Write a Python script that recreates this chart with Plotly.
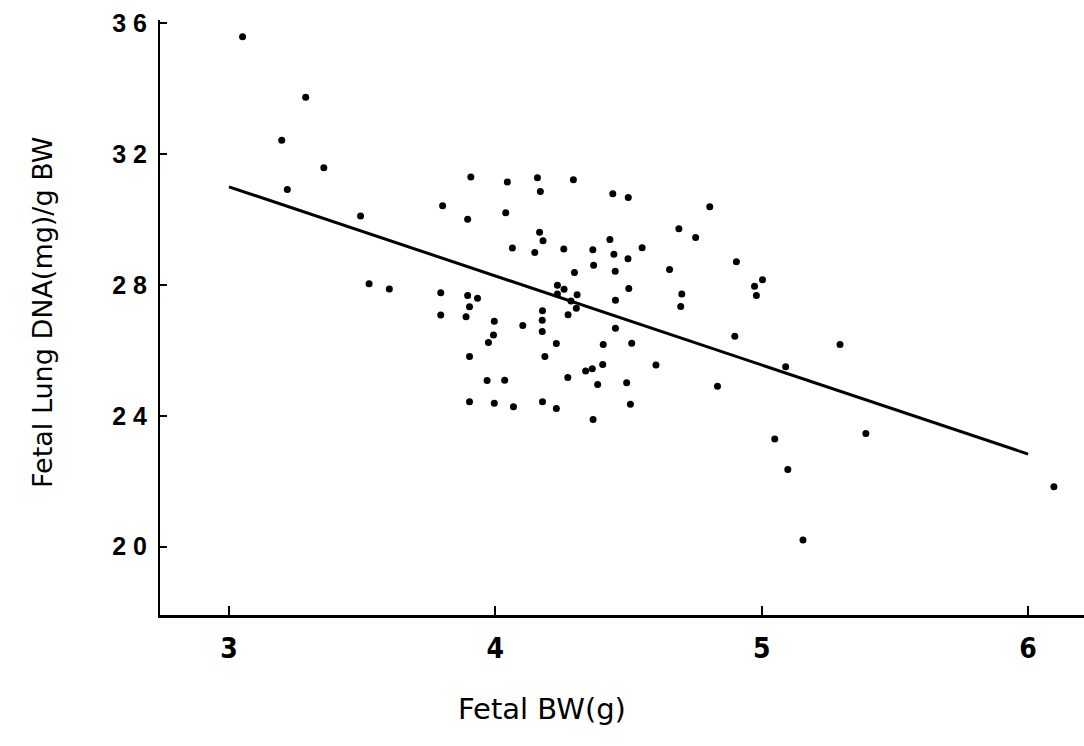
import plotly.graph_objects as go

# Fetal body weight (g)
bw = [3.051, 3.288, 3.198, 3.356, 3.219, 3.494, 3.908, 3.802, 3.896, 3.526,
      3.602, 3.795, 3.896, 3.933, 3.903, 3.795, 3.890,
      4.045, 4.158, 4.293, 4.169, 4.441, 4.499, 4.039, 4.166, 4.179,
      4.430, 4.689, 4.064, 4.148, 4.257, 4.366, 4.445, 4.551, 4.498,
      4.369, 4.654, 4.297, 4.450, 4.233, 4.258, 4.501, 4.233, 4.307,
      4.284, 4.304, 4.451, 4.177, 4.273, 4.176, 3.996, 4.103, 4.176,
      4.451, 3.993, 3.974, 4.229, 4.405, 4.512, 3.903, 4.186, 4.603,
      4.403, 4.364, 4.339, 4.272, 3.969, 4.035, 4.384, 4.493, 3.903,
      3.996, 4.068, 4.177, 4.229, 4.507, 4.367,
      4.805, 4.752, 4.905, 4.973, 5.003, 4.980, 4.700, 4.696, 4.899,
      5.294, 5.090, 4.834, 5.049, 5.391, 5.098, 6.097, 5.155]
# Fetal lung DNA (mg) / g BW
dna = [35.59, 33.74, 32.42, 31.58, 30.92, 30.11, 31.30, 30.42, 30.01, 28.04,
       27.88, 27.76, 27.68, 27.59, 27.33, 27.08, 27.03,
       31.15, 31.28, 31.22, 30.86, 30.79, 30.67, 30.21, 29.61, 29.35,
       29.39, 29.72, 29.13, 28.99, 29.10, 29.08, 28.94, 29.14, 28.80,
       28.60, 28.47, 28.38, 28.42, 27.99, 27.87, 27.89, 27.72, 27.70,
       27.51, 27.29, 27.53, 27.21, 27.09, 26.92, 26.89, 26.76, 26.58,
       26.68, 26.47, 26.24, 26.21, 26.18, 26.22, 25.81, 25.81, 25.55,
       25.57, 25.44, 25.37, 25.17, 25.08, 25.09, 24.96, 25.01, 24.43,
       24.38, 24.28, 24.43, 24.22, 24.35, 23.89,
       30.39, 29.45, 28.71, 27.96, 28.16, 27.68, 27.72, 27.34, 26.43,
       26.18, 25.50, 24.90, 23.29, 23.46, 22.36, 21.83, 20.20]

# Regression line end points
fit_x = [3.0, 6.0]
fit_y = [31.0, 22.83]

x_ticks = [3, 4, 5, 6]
x_ticklabels = ["3", "4", "5", "6"]
y_ticks = [20, 24, 28, 32, 36]
y_ticklabels = ["2 0", "2 4", "2 8", "3 2", "3 6"]

fig = go.Figure()
fig.add_trace(go.Scatter(x=fit_x, y=fit_y, mode="lines",
                         line=dict(color="black", width=3), showlegend=False,
                         hoverinfo="skip"))
fig.add_trace(go.Scatter(x=bw, y=dna, mode="markers",
                         marker=dict(color="black", size=7), showlegend=False))

fig.update_layout(
    width=1084, height=746,
    margin=dict(l=160, r=0, t=20, b=131),
    paper_bgcolor="white", plot_bgcolor="white",
    xaxis=dict(range=[2.741, 6.21], tickvals=x_ticks, ticktext=x_ticklabels,
               ticks="inside", ticklen=9, tickwidth=1.5, tickcolor="black",
               showline=True, linecolor="black", linewidth=3,
               showgrid=False, zeroline=False,
               tickfont=dict(family="DejaVu Sans Condensed, Liberation Sans, sans-serif",
                             size=28, color="black", weight="bold"),
               ticklabelstandoff=6),
    yaxis=dict(range=[17.91, 36.1], tickvals=y_ticks, ticktext=y_ticklabels,
               ticks="inside", ticklen=7, tickwidth=2, tickcolor="black",
               showline=True, linecolor="black", linewidth=2,
               showgrid=False, zeroline=False,
               tickfont=dict(family="Liberation Sans, Arial, sans-serif",
                             size=25, color="black", weight="bold"),
               ticklabelstandoff=6),
    annotations=[
        dict(text="Fetal BW(g)", xref="paper", yref="paper",
             x=(542 - 160) / 924, y=-(709 - 615) / 595, xanchor="center", yanchor="middle",
             showarrow=False,
             font=dict(family="DejaVu Sans, sans-serif", size=29, color="black")),
        dict(text="Fetal Lung DNA(mg)/g BW", xref="paper", yref="paper",
             x=-(160 - 42) / 924, y=(615 - 313) / 595, xanchor="center", yanchor="middle",
             textangle=-90, showarrow=False,
             font=dict(family="DejaVu Sans, sans-serif", size=27, color="black")),
    ],
)

fig.write_html("out.html")
